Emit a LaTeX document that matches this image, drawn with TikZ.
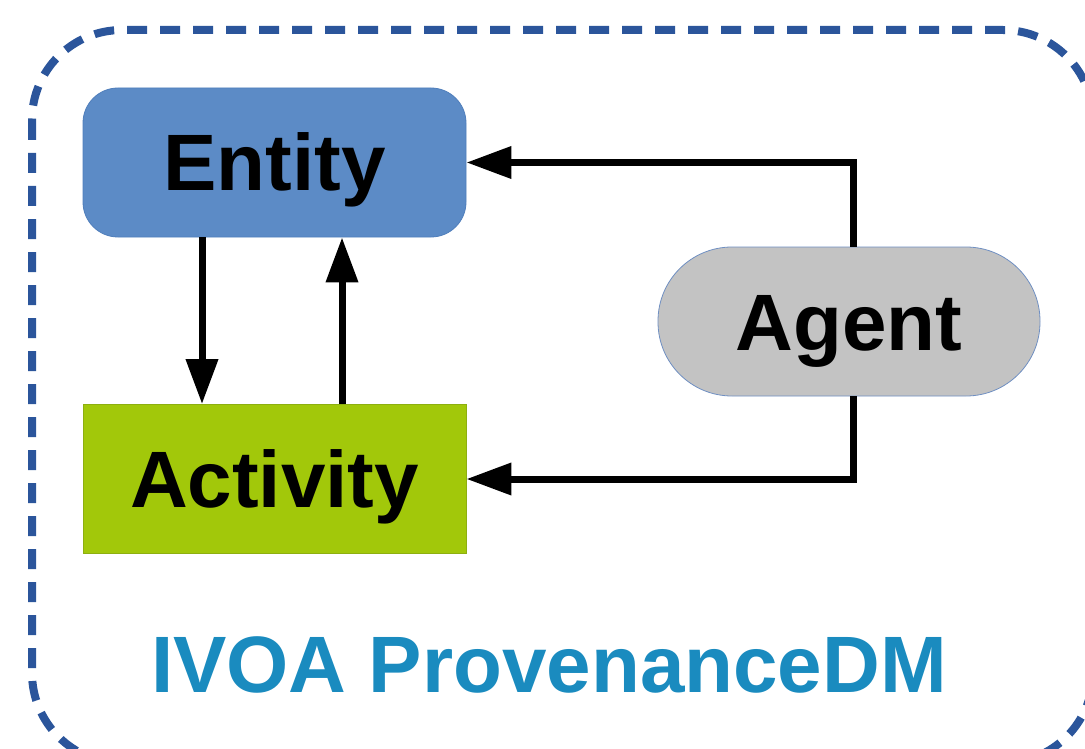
\documentclass[tikz,border=0pt]{standalone}
\usepackage{fontspec}
\setmainfont{Liberation Sans}
\usetikzlibrary{arrows.meta}
\definecolor{frameblue}{HTML}{2B559B}
\definecolor{entityfill}{HTML}{5C8BC6}
\definecolor{entityedge}{HTML}{4F7EBB}
\definecolor{actfill}{HTML}{A2C80A}
\definecolor{actedge}{HTML}{8DAF10}
\definecolor{agentfill}{HTML}{C3C3C3}
\definecolor{agentedge}{HTML}{6F8FC2}
\definecolor{titleblue}{HTML}{1A8BBF}
\tikzset{
  boxlabel/.style={font=\fontsize{80}{96}\selectfont\bfseries, text height=57pt, text depth=0pt,
    inner sep=0pt, minimum width=383pt, minimum height=149pt, line width=0.8pt},
  arr/.style={line width=7pt, -{Triangle[length=45pt,width=31pt]}},
  frame/.style={draw=frameblue, line width=8pt, dash pattern=on 20pt off 13pt, rounded corners=90pt}
}
\begin{document}
\begin{tikzpicture}[x=1pt,y=-1pt]
\useasboundingbox (0,0) rectangle (1085,749);
\draw[frame] (32,30) rectangle (1093,763);
\node[boxlabel, fill=entityfill, draw=entityedge, rounded corners=35pt] (Entity) at (274.5,162.5) {Entity};
\node[boxlabel, fill=actfill, draw=actedge] (Activity) at (274.5,479) {Activity};
\node[boxlabel, fill=agentfill, draw=agentedge, rounded corners=74pt, minimum width=382pt] (Agent) at (849,321.5) {Agent};
\node[font=\fontsize{80}{96}\selectfont\bfseries, text=titleblue, anchor=base, inner sep=0pt] (Title) at (549,692) {IVOA ProvenanceDM};
\draw[arr] (Entity.south -| 202,0) -- (Activity.north -| 202,0);
\draw[arr] (Activity.north -| 342,0) -- (Entity.south -| 342,0);
\draw[arr] (Agent.north -| 853,0) |- (Entity.east);
\draw[arr] (Agent.south -| 853,0) |- (Activity.east);
\end{tikzpicture}
\end{document}
